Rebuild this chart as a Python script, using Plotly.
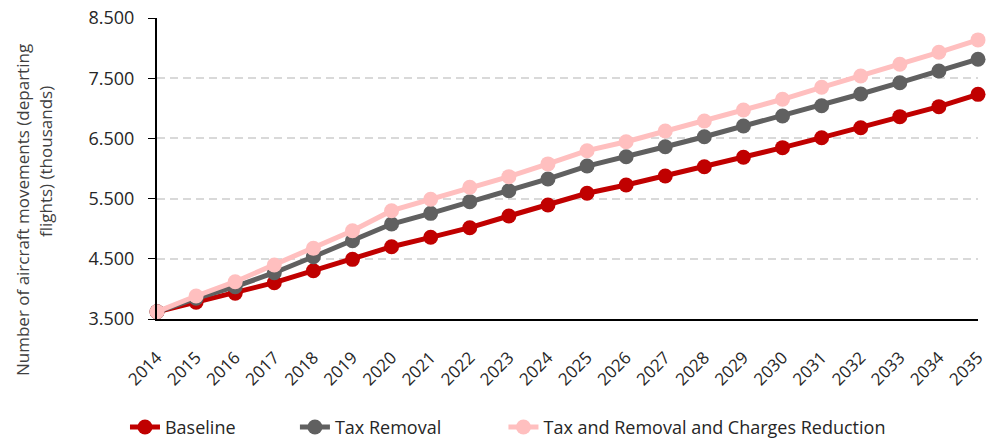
import plotly.graph_objects as go

# Years on the x axis
years = [str(y) for y in range(2014, 2036)]

# Departing flights (thousands) per scenario
baseline = [3620, 3777, 3927, 4103, 4302, 4491, 4701, 4857, 5017, 5211, 5394,
            5588, 5726, 5876, 6030, 6186, 6346, 6512, 6678, 6861, 7027, 7232]
tax_removal = [3620, 3844, 4037, 4269, 4535, 4801, 5078, 5255, 5449, 5631, 5826,
               6041, 6196, 6362, 6528, 6706, 6872, 7043, 7237, 7425, 7619, 7815]
tax_charges = [3620, 3882, 4120, 4397, 4674, 4967, 5299, 5488, 5688, 5865, 6076,
               6296, 6445, 6623, 6789, 6972, 7150, 7349, 7537, 7731, 7930, 8136]

y_ticks = [3500, 4500, 5500, 6500, 7500, 8500]

series = [
    ("Baseline", baseline, "#c00000", "legend"),
    ("Tax Removal", tax_removal, "#606060", "legend2"),
    ("Tax and Removal and Charges Reduction", tax_charges, "#ffbfbf", "legend3"),
]

fig = go.Figure()
for name, vals, color, leg in series:
    fig.add_trace(go.Scatter(
        x=years, y=vals, name=name, legend=leg,
        mode="lines+markers",
        line=dict(color=color, width=5),
        marker=dict(color=color, size=15),
        cliponaxis=False,
    ))

leg_style = dict(orientation="h", y=-0.36, yanchor="middle", xanchor="left",
                 font=dict(size=18, color="#262626"), bgcolor="rgba(0,0,0,0)")

fig.update_layout(
    width=986, height=444,
    paper_bgcolor="white", plot_bgcolor="white",
    font=dict(family="Open Sans", size=17, color="#404040"),
    separators=",.",
    margin=dict(l=157, r=8, t=18, b=125, autoexpand=False),
    xaxis=dict(
        type="category", showgrid=False, tickangle=-45,
        showline=True, linecolor="black", linewidth=2,
        ticks="", range=[0, 21], automargin=False,
        ticklabelstandoff=20,
        tickfont=dict(size=17, color="#262626"),
    ),
    yaxis=dict(
        range=[3500, 8500], tickvals=y_ticks, tickformat=",d",
        showgrid=True, gridcolor="#d9d9d9", griddash="8px,5px", gridwidth=2,
        showline=True, linecolor="black", linewidth=2,
        ticks="outside", ticklen=7, tickcolor="black",
        ticklabelstandoff=10,
        zeroline=False, automargin=False,
        tickfont=dict(size=18, color="#262626"),
    ),
    legend=dict(x=-0.039, **leg_style),
    legend2=dict(x=0.168, **leg_style),
    legend3=dict(x=0.422, **leg_style),
    showlegend=True,
)

# y-axis title, two lines as in the reference
fig.add_annotation(text="Number of aircraft movements (departing",
                   xref="paper", yref="paper", x=(22 - 157) / 821, y=(319 - 210) / 301,
                   xanchor="center", yanchor="middle",
                   textangle=-90, showarrow=False, font=dict(size=17, color="#404040"))
fig.add_annotation(text="flights) (thousands)",
                   xref="paper", yref="paper", x=(45 - 157) / 821, y=(319 - 162) / 301,
                   xanchor="center", yanchor="middle",
                   textangle=-90, showarrow=False, font=dict(size=17, color="#404040"))

fig.write_html("out.html", config={"displayModeBar": False},
               post_script="document.body.style.margin='0';document.body.style.overflow='hidden';")
